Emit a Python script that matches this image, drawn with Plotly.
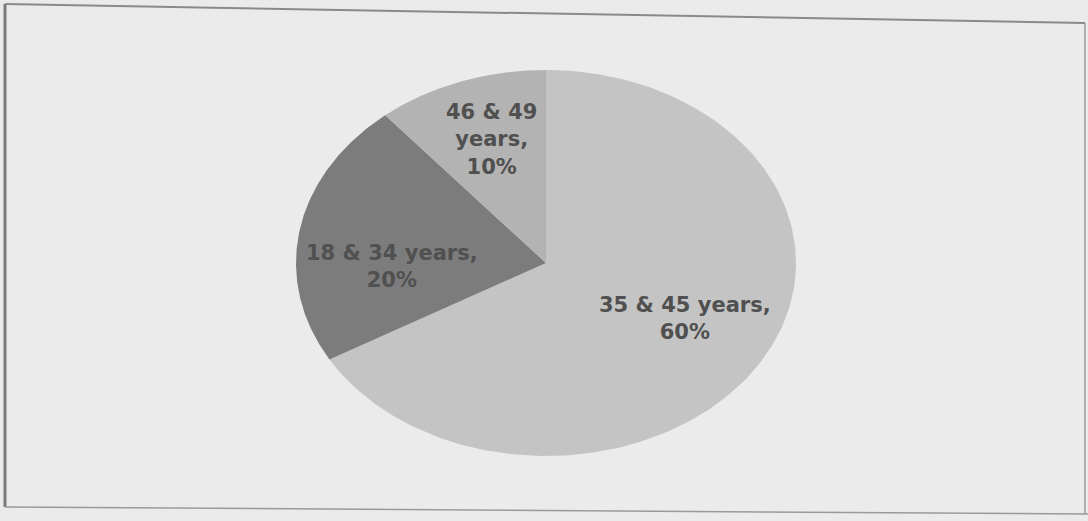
import numpy as np
import plotly.graph_objects as go

# ---- data ----
labels = ["35 & 45 years", "18 & 34 years", "46 & 49 years"]
values = [60, 20, 10]
label_text = ["35 & 45 years,<br>60%", "18 & 34 years,<br>20%", "46 & 49<br>years,<br>10%"]
colors = ["#c4c4c4", "#7c7c7c", "#b3b3b3"]

# label nudges in pixels, positive = down (layout only)
label_dy = [-6, 25, -7]
label_dx = [0, 4, 0]

W, H = 1088, 521
BG = "#ebebeb"

# pie drawn on a unit circle; axis ranges squash it into the scanned ellipse
cx_px, cy_px, rx_px, ry_px = 546, 263, 250, 193
xr = [-cx_px / rx_px, (W - cx_px) / rx_px]
yr = [-(H - cy_px) / ry_px, cy_px / ry_px]

fig = go.Figure()
total = float(sum(values))
start = 0.0
label_r = 0.64
annotations = []
for i, (lab, v, c) in enumerate(zip(labels, values, colors)):
    frac = v / total
    a0, a1 = start * 2 * np.pi, (start + frac) * 2 * np.pi
    t = np.linspace(a0, a1, 200)
    xs = np.concatenate([[0], np.sin(t), [0]])
    ys = np.concatenate([[0], np.cos(t), [0]])
    fig.add_trace(go.Scatter(x=xs, y=ys, fill="toself", fillcolor=c,
                             mode="lines", line=dict(width=0, color=c),
                             hoverinfo="skip", showlegend=False, name=lab))
    mid = (a0 + a1) / 2
    annotations.append(dict(
        x=label_r * np.sin(mid), y=label_r * np.cos(mid), xref="x", yref="y",
        text="<b>" + label_text[i] + "</b>", showarrow=False,
        xshift=label_dx[i], yshift=-label_dy[i],
        font=dict(family="DejaVu Sans", size=21, color="#505050"),
    ))
    start += frac

def py(p):
    return 1 - p / H

shapes = [
    dict(type="line", xref="paper", yref="paper", x0=5 / W, y0=py(4), x1=5 / W, y1=py(507),
         line=dict(color="#7a7a7a", width=3)),
    dict(type="line", xref="paper", yref="paper", x0=5 / W, y0=py(4), x1=1085 / W, y1=py(23),
         line=dict(color="#8a8a8a", width=2)),
    dict(type="line", xref="paper", yref="paper", x0=1085 / W, y0=py(23), x1=1085 / W, y1=py(514),
         line=dict(color="#9a9a9a", width=1.5)),
    dict(type="line", xref="paper", yref="paper", x0=5 / W, y0=py(507), x1=1088 / W, y1=py(514),
         line=dict(color="#9a9a9a", width=1.5)),
]

fig.update_layout(
    width=W, height=H,
    margin=dict(l=0, r=0, t=0, b=0),
    paper_bgcolor=BG, plot_bgcolor=BG,
    xaxis=dict(range=xr, visible=False, fixedrange=True),
    yaxis=dict(range=yr, visible=False, fixedrange=True),
    shapes=shapes,
    annotations=annotations,
)

fig.write_html("out.html")
